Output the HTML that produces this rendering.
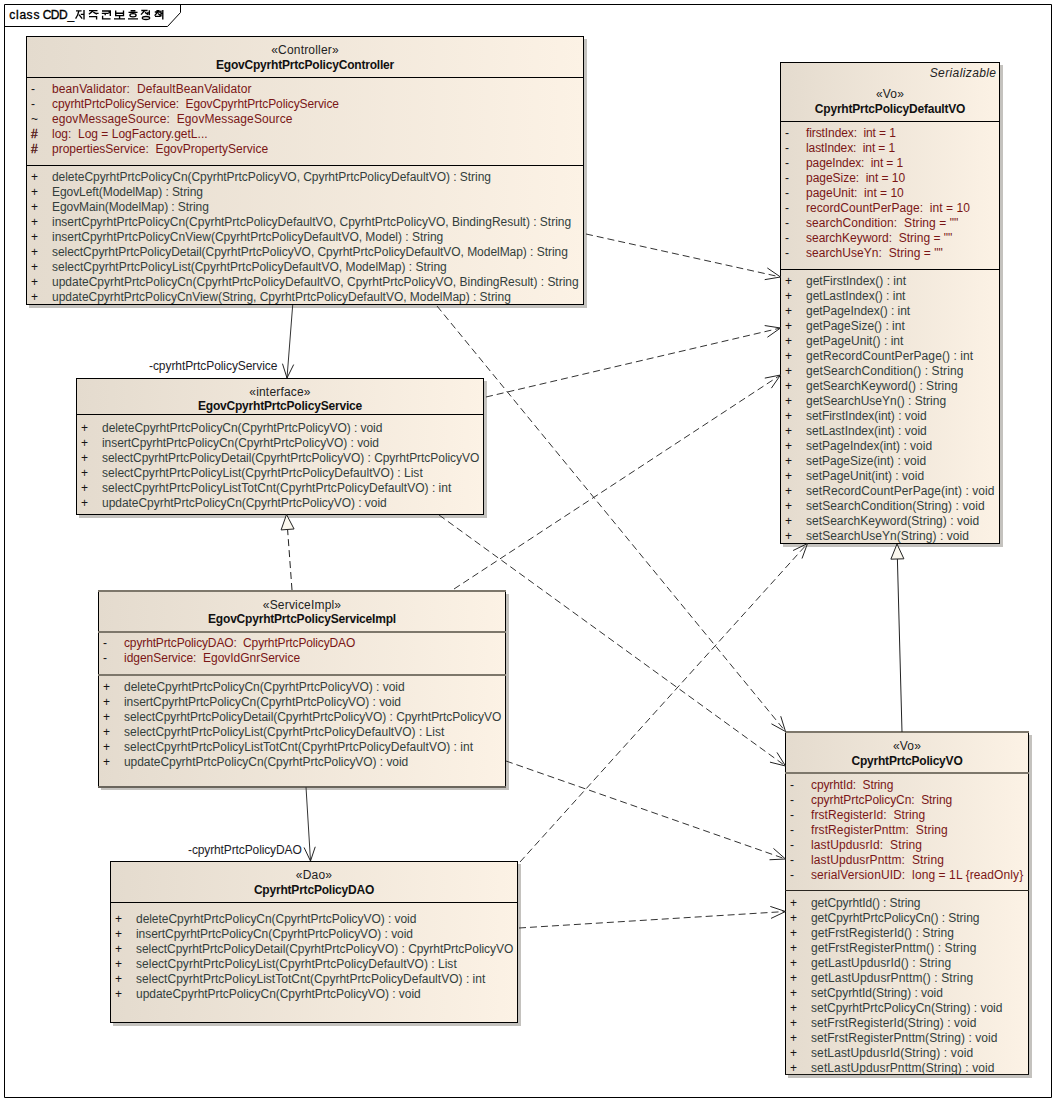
<!DOCTYPE html><html><head><meta charset="utf-8"><style>
html,body{margin:0;padding:0;background:#fff;}
body{width:1056px;height:1102px;position:relative;overflow:hidden;font-family:"Liberation Sans", sans-serif;font-size:12px;}
.t{position:absolute;white-space:pre;line-height:15px;}
.bg{position:absolute;box-sizing:border-box;background:linear-gradient(to right,#e4dbce,#fcf2e5);box-shadow:3px 3px 0 #c4c2be;}
.vl{position:absolute;width:1px;background:#000;}
.sep{position:absolute;}
.a{color:#7a1616;}
.o{color:#333e3c;}
.st{color:#222;letter-spacing:0.18px;}
.nm{color:#111;font-weight:bold;letter-spacing:-0.2px;}
.lb{color:#1c1c28;}
.sy{color:#141414;}
</style></head><body>
<div class="bg" style="left:26px;top:36px;width:558px;height:269px;"></div>
<div class="vl" style="left:26px;top:36px;height:269px;"></div>
<div class="vl" style="left:583px;top:36px;height:269px;"></div>
<div class="sep" style="left:26px;top:36px;width:558px;height:1px;background:#000;"></div>
<div class="sep" style="left:26px;top:77px;width:558px;height:1px;background:#000;"></div>
<div class="sep" style="left:26px;top:165px;width:558px;height:1px;background:#000;"></div>
<div class="sep" style="left:26px;top:304px;width:558px;height:1px;background:#000;"></div>
<div class="t st" style="left:5.0px;top:43px;width:600px;text-align:center;">«Controller»</div>
<div class="t nm" style="left:5.0px;top:58px;width:600px;text-align:center;">EgovCpyrhtPrtcPolicyController</div>
<div class="t sy" style="left:31px;top:82px;">-</div>
<div class="t a" style="left:52px;top:82px;letter-spacing:0.109px;">beanValidator:  DefaultBeanValidator</div>
<div class="t sy" style="left:31px;top:97px;">-</div>
<div class="t a" style="left:52px;top:97px;letter-spacing:-0.098px;">cpyrhtPrtcPolicyService:  EgovCpyrhtPrtcPolicyService</div>
<div class="t sy" style="left:31px;top:112px;">~</div>
<div class="t a" style="left:52px;top:112px;letter-spacing:0.100px;">egovMessageSource:  EgovMessageSource</div>
<div class="t sy" style="left:31px;top:127px;color:#4a0808;-webkit-text-stroke:0.3px #4a0808;">#</div>
<div class="t a" style="left:52px;top:127px;">log:  Log = LogFactory.getL...</div>
<div class="t sy" style="left:31px;top:142px;color:#4a0808;-webkit-text-stroke:0.3px #4a0808;">#</div>
<div class="t a" style="left:52px;top:142px;">propertiesService:  EgovPropertyService</div>
<div class="t sy" style="left:31px;top:170px;">+</div>
<div class="t o" style="left:52px;top:170px;letter-spacing:-0.049px;">deleteCpyrhtPrtcPolicyCn(CpyrhtPrtcPolicyVO, CpyrhtPrtcPolicyDefaultVO) : String</div>
<div class="t sy" style="left:31px;top:185px;">+</div>
<div class="t o" style="left:52px;top:185px;letter-spacing:-0.069px;">EgovLeft(ModelMap) : String</div>
<div class="t sy" style="left:31px;top:200px;">+</div>
<div class="t o" style="left:52px;top:200px;letter-spacing:-0.073px;">EgovMain(ModelMap) : String</div>
<div class="t sy" style="left:31px;top:215px;">+</div>
<div class="t o" style="left:52px;top:215px;letter-spacing:-0.011px;">insertCpyrhtPrtcPolicyCn(CpyrhtPrtcPolicyDefaultVO, CpyrhtPrtcPolicyVO, BindingResult) : String</div>
<div class="t sy" style="left:31px;top:230px;">+</div>
<div class="t o" style="left:52px;top:230px;letter-spacing:-0.009px;">insertCpyrhtPrtcPolicyCnView(CpyrhtPrtcPolicyDefaultVO, Model) : String</div>
<div class="t sy" style="left:31px;top:245px;">+</div>
<div class="t o" style="left:52px;top:245px;letter-spacing:-0.039px;">selectCpyrhtPrtcPolicyDetail(CpyrhtPrtcPolicyVO, CpyrhtPrtcPolicyDefaultVO, ModelMap) : String</div>
<div class="t sy" style="left:31px;top:260px;">+</div>
<div class="t o" style="left:52px;top:260px;">selectCpyrhtPrtcPolicyList(CpyrhtPrtcPolicyDefaultVO, ModelMap) : String</div>
<div class="t sy" style="left:31px;top:275px;">+</div>
<div class="t o" style="left:52px;top:275px;letter-spacing:-0.009px;">updateCpyrhtPrtcPolicyCn(CpyrhtPrtcPolicyDefaultVO, CpyrhtPrtcPolicyVO, BindingResult) : String</div>
<div class="t sy" style="left:31px;top:290px;">+</div>
<div class="t o" style="left:52px;top:290px;letter-spacing:-0.022px;">updateCpyrhtPrtcPolicyCnView(String, CpyrhtPrtcPolicyDefaultVO, ModelMap) : String</div>
<div class="bg" style="left:780px;top:62px;width:220px;height:482px;"></div>
<div class="vl" style="left:780px;top:62px;height:482px;"></div>
<div class="vl" style="left:999px;top:62px;height:482px;"></div>
<div class="sep" style="left:780px;top:62px;width:220px;height:1px;background:#000;"></div>
<div class="sep" style="left:780px;top:121px;width:220px;height:1px;background:#000;"></div>
<div class="sep" style="left:780px;top:269px;width:220px;height:1px;background:#000;"></div>
<div class="sep" style="left:780px;top:543px;width:220px;height:1px;background:#000;"></div>
<div class="t st" style="left:590.0px;top:87px;width:600px;text-align:center;">«Vo»</div>
<div class="t nm" style="left:590.0px;top:102px;width:600px;text-align:center;">CpyrhtPrtcPolicyDefaultVO</div>
<div class="t st" style="left:596.4px;top:66px;width:400px;text-align:right;font-style:italic;letter-spacing:0.39px;">Serializable</div>
<div class="t sy" style="left:785px;top:126px;">-</div>
<div class="t a" style="left:806px;top:126px;letter-spacing:-0.100px;">firstIndex:  int = 1</div>
<div class="t sy" style="left:785px;top:141px;">-</div>
<div class="t a" style="left:806px;top:141px;letter-spacing:-0.106px;">lastIndex:  int = 1</div>
<div class="t sy" style="left:785px;top:156px;">-</div>
<div class="t a" style="left:806px;top:156px;letter-spacing:-0.106px;">pageIndex:  int = 1</div>
<div class="t sy" style="left:785px;top:171px;">-</div>
<div class="t a" style="left:806px;top:171px;letter-spacing:-0.033px;">pageSize:  int = 10</div>
<div class="t sy" style="left:785px;top:186px;">-</div>
<div class="t a" style="left:806px;top:186px;">pageUnit:  int = 10</div>
<div class="t sy" style="left:785px;top:201px;">-</div>
<div class="t a" style="left:806px;top:201px;letter-spacing:0.050px;">recordCountPerPage:  int = 10</div>
<div class="t sy" style="left:785px;top:216px;">-</div>
<div class="t a" style="left:806px;top:216px;letter-spacing:0.075px;">searchCondition:  String = &quot;&quot;</div>
<div class="t sy" style="left:785px;top:231px;">-</div>
<div class="t a" style="left:806px;top:231px;">searchKeyword:  String = &quot;&quot;</div>
<div class="t sy" style="left:785px;top:246px;">-</div>
<div class="t a" style="left:806px;top:246px;letter-spacing:0.050px;">searchUseYn:  String = &quot;&quot;</div>
<div class="t sy" style="left:785px;top:274px;">+</div>
<div class="t o" style="left:806px;top:274px;">getFirstIndex() : int</div>
<div class="t sy" style="left:785px;top:289px;">+</div>
<div class="t o" style="left:806px;top:289px;">getLastIndex() : int</div>
<div class="t sy" style="left:785px;top:304px;">+</div>
<div class="t o" style="left:806px;top:304px;letter-spacing:-0.032px;">getPageIndex() : int</div>
<div class="t sy" style="left:785px;top:319px;">+</div>
<div class="t o" style="left:806px;top:319px;">getPageSize() : int</div>
<div class="t sy" style="left:785px;top:334px;">+</div>
<div class="t o" style="left:806px;top:334px;letter-spacing:0.039px;">getPageUnit() : int</div>
<div class="t sy" style="left:785px;top:349px;">+</div>
<div class="t o" style="left:806px;top:349px;letter-spacing:0.086px;">getRecordCountPerPage() : int</div>
<div class="t sy" style="left:785px;top:364px;">+</div>
<div class="t o" style="left:806px;top:364px;letter-spacing:0.093px;">getSearchCondition() : String</div>
<div class="t sy" style="left:785px;top:379px;">+</div>
<div class="t o" style="left:806px;top:379px;letter-spacing:0.035px;">getSearchKeyword() : String</div>
<div class="t sy" style="left:785px;top:394px;">+</div>
<div class="t o" style="left:806px;top:394px;">getSearchUseYn() : String</div>
<div class="t sy" style="left:785px;top:409px;">+</div>
<div class="t o" style="left:806px;top:409px;letter-spacing:-0.029px;">setFirstIndex(int) : void</div>
<div class="t sy" style="left:785px;top:424px;">+</div>
<div class="t o" style="left:806px;top:424px;">setLastIndex(int) : void</div>
<div class="t sy" style="left:785px;top:439px;">+</div>
<div class="t o" style="left:806px;top:439px;">setPageIndex(int) : void</div>
<div class="t sy" style="left:785px;top:454px;">+</div>
<div class="t o" style="left:806px;top:454px;">setPageSize(int) : void</div>
<div class="t sy" style="left:785px;top:469px;">+</div>
<div class="t o" style="left:806px;top:469px;">setPageUnit(int) : void</div>
<div class="t sy" style="left:785px;top:484px;">+</div>
<div class="t o" style="left:806px;top:484px;letter-spacing:0.075px;">setRecordCountPerPage(int) : void</div>
<div class="t sy" style="left:785px;top:499px;">+</div>
<div class="t o" style="left:806px;top:499px;letter-spacing:0.081px;">setSearchCondition(String) : void</div>
<div class="t sy" style="left:785px;top:514px;">+</div>
<div class="t o" style="left:806px;top:514px;letter-spacing:0.033px;">setSearchKeyword(String) : void</div>
<div class="t sy" style="left:785px;top:529px;">+</div>
<div class="t o" style="left:806px;top:529px;letter-spacing:0.054px;">setSearchUseYn(String) : void</div>
<div class="bg" style="left:785px;top:732px;width:244px;height:343px;"></div>
<div class="vl" style="left:785px;top:732px;height:343px;"></div>
<div class="vl" style="left:1028px;top:732px;height:343px;"></div>
<div class="sep" style="left:785px;top:731px;width:244px;height:2px;background:#7d776b;"></div>
<div class="sep" style="left:785px;top:772px;width:244px;height:2px;background:#7d776b;"></div>
<div class="sep" style="left:785px;top:890px;width:244px;height:1px;background:#2a2620;"></div>
<div class="sep" style="left:785px;top:1074px;width:244px;height:1px;background:#1a1814;"></div>
<div class="t st" style="left:607.0px;top:739px;width:600px;text-align:center;">«Vo»</div>
<div class="t nm" style="left:607.0px;top:754px;width:600px;text-align:center;">CpyrhtPrtcPolicyVO</div>
<div class="t sy" style="left:790px;top:778px;">-</div>
<div class="t a" style="left:811px;top:778px;letter-spacing:-0.106px;">cpyrhtId:  String</div>
<div class="t sy" style="left:790px;top:793px;">-</div>
<div class="t a" style="left:811px;top:793px;letter-spacing:-0.058px;">cpyrhtPrtcPolicyCn:  String</div>
<div class="t sy" style="left:790px;top:808px;">-</div>
<div class="t a" style="left:811px;top:808px;letter-spacing:0.068px;">frstRegisterId:  String</div>
<div class="t sy" style="left:790px;top:823px;">-</div>
<div class="t a" style="left:811px;top:823px;letter-spacing:0.108px;">frstRegisterPnttm:  String</div>
<div class="t sy" style="left:790px;top:838px;">-</div>
<div class="t a" style="left:811px;top:838px;letter-spacing:0.115px;">lastUpdusrId:  String</div>
<div class="t sy" style="left:790px;top:853px;">-</div>
<div class="t a" style="left:811px;top:853px;letter-spacing:0.122px;">lastUpdusrPnttm:  String</div>
<div class="t sy" style="left:790px;top:868px;">-</div>
<div class="t a" style="left:811px;top:868px;letter-spacing:0.092px;">serialVersionUID:  long = 1L {readOnly}</div>
<div class="t sy" style="left:790px;top:896px;">+</div>
<div class="t o" style="left:811px;top:896px;letter-spacing:-0.090px;">getCpyrhtId() : String</div>
<div class="t sy" style="left:790px;top:911px;">+</div>
<div class="t o" style="left:811px;top:911px;letter-spacing:-0.052px;">getCpyrhtPrtcPolicyCn() : String</div>
<div class="t sy" style="left:790px;top:926px;">+</div>
<div class="t o" style="left:811px;top:926px;letter-spacing:0.059px;">getFrstRegisterId() : String</div>
<div class="t sy" style="left:790px;top:941px;">+</div>
<div class="t o" style="left:811px;top:941px;letter-spacing:0.087px;">getFrstRegisterPnttm() : String</div>
<div class="t sy" style="left:790px;top:956px;">+</div>
<div class="t o" style="left:811px;top:956px;letter-spacing:0.108px;">getLastUpdusrId() : String</div>
<div class="t sy" style="left:790px;top:971px;">+</div>
<div class="t o" style="left:811px;top:971px;letter-spacing:0.121px;">getLastUpdusrPnttm() : String</div>
<div class="t sy" style="left:790px;top:986px;">+</div>
<div class="t o" style="left:811px;top:986px;letter-spacing:-0.032px;">setCpyrhtId(String) : void</div>
<div class="t sy" style="left:790px;top:1001px;">+</div>
<div class="t o" style="left:811px;top:1001px;">setCpyrhtPrtcPolicyCn(String) : void</div>
<div class="t sy" style="left:790px;top:1016px;">+</div>
<div class="t o" style="left:811px;top:1016px;letter-spacing:0.084px;">setFrstRegisterId(String) : void</div>
<div class="t sy" style="left:790px;top:1031px;">+</div>
<div class="t o" style="left:811px;top:1031px;letter-spacing:0.071px;">setFrstRegisterPnttm(String) : void</div>
<div class="t sy" style="left:790px;top:1046px;">+</div>
<div class="t o" style="left:811px;top:1046px;letter-spacing:0.117px;">setLastUpdusrId(String) : void</div>
<div class="t sy" style="left:790px;top:1061px;">+</div>
<div class="t o" style="left:811px;top:1061px;letter-spacing:0.106px;">setLastUpdusrPnttm(String) : void</div>
<div class="bg" style="left:76px;top:378px;width:408px;height:137px;"></div>
<div class="vl" style="left:76px;top:378px;height:137px;"></div>
<div class="vl" style="left:483px;top:378px;height:137px;"></div>
<div class="sep" style="left:76px;top:378px;width:408px;height:1px;background:#000;"></div>
<div class="sep" style="left:76px;top:414px;width:408px;height:1px;background:#000;"></div>
<div class="sep" style="left:76px;top:514px;width:408px;height:1px;background:#000;"></div>
<div class="t st" style="left:-20.0px;top:385px;width:600px;text-align:center;">«interface»</div>
<div class="t nm" style="left:-20.0px;top:399px;width:600px;text-align:center;">EgovCpyrhtPrtcPolicyService</div>
<div class="t sy" style="left:81px;top:421px;">+</div>
<div class="t o" style="left:102px;top:421px;letter-spacing:-0.048px;">deleteCpyrhtPrtcPolicyCn(CpyrhtPrtcPolicyVO) : void</div>
<div class="t sy" style="left:81px;top:436px;">+</div>
<div class="t o" style="left:102px;top:436px;letter-spacing:-0.048px;">insertCpyrhtPrtcPolicyCn(CpyrhtPrtcPolicyVO) : void</div>
<div class="t sy" style="left:81px;top:451px;">+</div>
<div class="t o" style="left:102px;top:451px;letter-spacing:-0.051px;">selectCpyrhtPrtcPolicyDetail(CpyrhtPrtcPolicyVO) : CpyrhtPrtcPolicyVO</div>
<div class="t sy" style="left:81px;top:466px;">+</div>
<div class="t o" style="left:102px;top:466px;letter-spacing:0.022px;">selectCpyrhtPrtcPolicyList(CpyrhtPrtcPolicyDefaultVO) : List</div>
<div class="t sy" style="left:81px;top:481px;">+</div>
<div class="t o" style="left:102px;top:481px;letter-spacing:0.019px;">selectCpyrhtPrtcPolicyListTotCnt(CpyrhtPrtcPolicyDefaultVO) : int</div>
<div class="t sy" style="left:81px;top:496px;">+</div>
<div class="t o" style="left:102px;top:496px;letter-spacing:-0.040px;">updateCpyrhtPrtcPolicyCn(CpyrhtPrtcPolicyVO) : void</div>
<div class="bg" style="left:98px;top:591px;width:408px;height:196px;"></div>
<div class="vl" style="left:98px;top:591px;height:196px;"></div>
<div class="vl" style="left:505px;top:591px;height:196px;"></div>
<div class="sep" style="left:98px;top:590px;width:408px;height:2px;background:#7d776b;"></div>
<div class="sep" style="left:98px;top:631px;width:408px;height:2px;background:#7d776b;"></div>
<div class="sep" style="left:98px;top:674px;width:408px;height:2px;background:#7d776b;"></div>
<div class="sep" style="left:98px;top:786px;width:408px;height:2px;background:#6a655c;"></div>
<div class="t st" style="left:2.0px;top:598px;width:600px;text-align:center;">«ServiceImpl»</div>
<div class="t nm" style="left:2.0px;top:612px;width:600px;text-align:center;">EgovCpyrhtPrtcPolicyServiceImpl</div>
<div class="t sy" style="left:103px;top:636px;">-</div>
<div class="t a" style="left:124px;top:636px;letter-spacing:-0.135px;">cpyrhtPrtcPolicyDAO:  CpyrhtPrtcPolicyDAO</div>
<div class="t sy" style="left:103px;top:651px;">-</div>
<div class="t a" style="left:124px;top:651px;letter-spacing:-0.023px;">idgenService:  EgovIdGnrService</div>
<div class="t sy" style="left:103px;top:680px;">+</div>
<div class="t o" style="left:124px;top:680px;letter-spacing:-0.044px;">deleteCpyrhtPrtcPolicyCn(CpyrhtPrtcPolicyVO) : void</div>
<div class="t sy" style="left:103px;top:695px;">+</div>
<div class="t o" style="left:124px;top:695px;letter-spacing:-0.048px;">insertCpyrhtPrtcPolicyCn(CpyrhtPrtcPolicyVO) : void</div>
<div class="t sy" style="left:103px;top:710px;">+</div>
<div class="t o" style="left:124px;top:710px;letter-spacing:-0.051px;">selectCpyrhtPrtcPolicyDetail(CpyrhtPrtcPolicyVO) : CpyrhtPrtcPolicyVO</div>
<div class="t sy" style="left:103px;top:725px;">+</div>
<div class="t o" style="left:124px;top:725px;letter-spacing:0.015px;">selectCpyrhtPrtcPolicyList(CpyrhtPrtcPolicyDefaultVO) : List</div>
<div class="t sy" style="left:103px;top:740px;">+</div>
<div class="t o" style="left:124px;top:740px;letter-spacing:0.014px;">selectCpyrhtPrtcPolicyListTotCnt(CpyrhtPrtcPolicyDefaultVO) : int</div>
<div class="t sy" style="left:103px;top:755px;">+</div>
<div class="t o" style="left:124px;top:755px;letter-spacing:-0.050px;">updateCpyrhtPrtcPolicyCn(CpyrhtPrtcPolicyVO) : void</div>
<div class="bg" style="left:110px;top:861px;width:408px;height:162px;"></div>
<div class="vl" style="left:110px;top:861px;height:162px;"></div>
<div class="vl" style="left:517px;top:861px;height:162px;"></div>
<div class="sep" style="left:110px;top:861px;width:408px;height:1px;background:#000;"></div>
<div class="sep" style="left:110px;top:902px;width:408px;height:1px;background:#000;"></div>
<div class="sep" style="left:110px;top:1022px;width:408px;height:1px;background:#000;"></div>
<div class="t st" style="left:14.0px;top:868px;width:600px;text-align:center;">«Dao»</div>
<div class="t nm" style="left:14.0px;top:883px;width:600px;text-align:center;">CpyrhtPrtcPolicyDAO</div>
<div class="t sy" style="left:115px;top:912px;">+</div>
<div class="t o" style="left:136px;top:912px;letter-spacing:-0.048px;">deleteCpyrhtPrtcPolicyCn(CpyrhtPrtcPolicyVO) : void</div>
<div class="t sy" style="left:115px;top:927px;">+</div>
<div class="t o" style="left:136px;top:927px;letter-spacing:-0.048px;">insertCpyrhtPrtcPolicyCn(CpyrhtPrtcPolicyVO) : void</div>
<div class="t sy" style="left:115px;top:942px;">+</div>
<div class="t o" style="left:136px;top:942px;letter-spacing:-0.051px;">selectCpyrhtPrtcPolicyDetail(CpyrhtPrtcPolicyVO) : CpyrhtPrtcPolicyVO</div>
<div class="t sy" style="left:115px;top:957px;">+</div>
<div class="t o" style="left:136px;top:957px;letter-spacing:0.022px;">selectCpyrhtPrtcPolicyList(CpyrhtPrtcPolicyDefaultVO) : List</div>
<div class="t sy" style="left:115px;top:972px;">+</div>
<div class="t o" style="left:136px;top:972px;letter-spacing:0.019px;">selectCpyrhtPrtcPolicyListTotCnt(CpyrhtPrtcPolicyDefaultVO) : int</div>
<div class="t sy" style="left:115px;top:987px;">+</div>
<div class="t o" style="left:136px;top:987px;letter-spacing:-0.040px;">updateCpyrhtPrtcPolicyCn(CpyrhtPrtcPolicyVO) : void</div>
<div class="t lb" style="left:149px;top:359px;letter-spacing:-0.07px;">-cpyrhtPrtcPolicyService</div>
<div class="t lb" style="left:188px;top:843px;letter-spacing:-0.12px;">-cpyrhtPrtcPolicyDAO</div>
<svg width="1056" height="1102" style="position:absolute;left:0;top:0"><path d="M4.5 1097.5 V4.5 H1051.5 V1097.5 Z" fill="none" stroke="#000" stroke-width="1"/><path d="M4.5 26.5 H167.5 L180.5 12.5 V4.5" fill="none" stroke="#000" stroke-width="1"/><text x="9.2 15.9 19.6 26.6 33.5 38.5 42.8 50.8 59.1 67.5" y="18.7" font-family="Liberation Sans" font-size="12" fill="#000" stroke="#000" stroke-width="0.35">class CDD_</text><path d="M76 10.8H81.6 M78.8 11.2Q78 15.5 75.6 18.7 M79 14.6L82.2 18.7 M84 10V19.5 M80.8 14.4H84 M89 10.6H97.5 M93 10.9L88.9 14.2 M93.3 12.2L97 14.2 M95 13.4H98.6 M89 16.6H96.6V19.6 M102 11H109.2V13.3 M101.8 13.4H108.6 M105.2 13.4V15.3 M110.3 10.3V16 M102.6 15.8V18.8H110.6 M115.7 10.5V15.6H123.5V10.5 M115.7 13.2H123.5 M119.6 15.6V18.4 M114 18.8H125 M130.6 10.7H135.4 M128.5 12.4H137.5 M128 18.8H138 M141.3 10.5H147.6 M144.6 10.8L141 14.6 M145 12.4L148.2 14.6 M149.3 10.2V15.2 M147 12.8H149.3 M156.4 10.6H159.6 M154.8 12H160.4 M157.6 12.2L154.6 15.6 M158 13.4L160.6 15.6 M161 10.6V16.4 M162.8 10V19.6 M161 13.4H162.8 M155 16.4H160.6" fill="none" stroke="#000" stroke-width="1.35"/><ellipse cx="133" cy="15.3" rx="3.1" ry="1.6" fill="none" stroke="#000" stroke-width="1.3"/><ellipse cx="146" cy="18" rx="3.7" ry="1.5" fill="none" stroke="#000" stroke-width="1.3"/><line x1="586" y1="234" x2="780.5" y2="277" stroke="#333" stroke-width="1" stroke-dasharray="7 4"/><line x1="780.5" y1="277" x2="767.31" y2="267.95" stroke="#222" stroke-width="1"/><line x1="780.5" y1="277" x2="764.72" y2="279.65" stroke="#222" stroke-width="1"/><line x1="292.7" y1="305" x2="287" y2="378" stroke="#333" stroke-width="1"/><line x1="287" y1="378" x2="293.68" y2="364.57" stroke="#222" stroke-width="1"/><line x1="287" y1="378" x2="282.48" y2="363.70" stroke="#222" stroke-width="1"/><line x1="437" y1="306" x2="785.5" y2="731.5" stroke="#333" stroke-width="1" stroke-dasharray="7 4"/><line x1="785.5" y1="731.5" x2="780.74" y2="716.23" stroke="#222" stroke-width="1"/><line x1="785.5" y1="731.5" x2="771.46" y2="723.82" stroke="#222" stroke-width="1"/><line x1="486" y1="397" x2="780.5" y2="328" stroke="#333" stroke-width="1" stroke-dasharray="7 4"/><line x1="780.5" y1="328" x2="764.69" y2="325.55" stroke="#222" stroke-width="1"/><line x1="780.5" y1="328" x2="767.42" y2="337.22" stroke="#222" stroke-width="1"/><line x1="439" y1="515" x2="785.5" y2="766" stroke="#333" stroke-width="1" stroke-dasharray="7 4"/><line x1="785.5" y1="766" x2="777.00" y2="752.44" stroke="#222" stroke-width="1"/><line x1="785.5" y1="766" x2="769.97" y2="762.15" stroke="#222" stroke-width="1"/><line x1="292" y1="590" x2="287.59" y2="529.46" stroke="#222" stroke-width="1" stroke-dasharray="7 4"/><path d="M286.5 514.5 L294.07 528.99 L281.11 529.93 Z" fill="#fbf8ef" stroke="#222" stroke-width="1"/><line x1="454" y1="589" x2="780.5" y2="375" stroke="#333" stroke-width="1" stroke-dasharray="7 4"/><line x1="780.5" y1="375" x2="764.81" y2="378.12" stroke="#222" stroke-width="1"/><line x1="780.5" y1="375" x2="771.38" y2="388.15" stroke="#222" stroke-width="1"/><line x1="506" y1="761" x2="785.5" y2="859" stroke="#333" stroke-width="1" stroke-dasharray="7 4"/><line x1="785.5" y1="859" x2="773.48" y2="848.44" stroke="#222" stroke-width="1"/><line x1="785.5" y1="859" x2="769.52" y2="859.75" stroke="#222" stroke-width="1"/><line x1="306" y1="787" x2="310.5" y2="861" stroke="#333" stroke-width="1"/><line x1="310.5" y1="861" x2="315.26" y2="846.78" stroke="#222" stroke-width="1"/><line x1="310.5" y1="861" x2="304.05" y2="847.46" stroke="#222" stroke-width="1"/><line x1="520" y1="862" x2="807.5" y2="543.5" stroke="#333" stroke-width="1" stroke-dasharray="7 4"/><line x1="807.5" y1="543.5" x2="793.11" y2="550.50" stroke="#222" stroke-width="1"/><line x1="807.5" y1="543.5" x2="802.01" y2="558.53" stroke="#222" stroke-width="1"/><line x1="519" y1="928" x2="785.5" y2="911.5" stroke="#333" stroke-width="1" stroke-dasharray="7 4"/><line x1="785.5" y1="911.5" x2="770.32" y2="906.43" stroke="#222" stroke-width="1"/><line x1="785.5" y1="911.5" x2="771.06" y2="918.40" stroke="#222" stroke-width="1"/><line x1="902" y1="732" x2="897.40" y2="558.99" stroke="#222" stroke-width="1"/><path d="M897 544 L903.90 558.82 L890.90 559.17 Z" fill="#fbf8ef" stroke="#222" stroke-width="1"/></svg>
</body></html>
